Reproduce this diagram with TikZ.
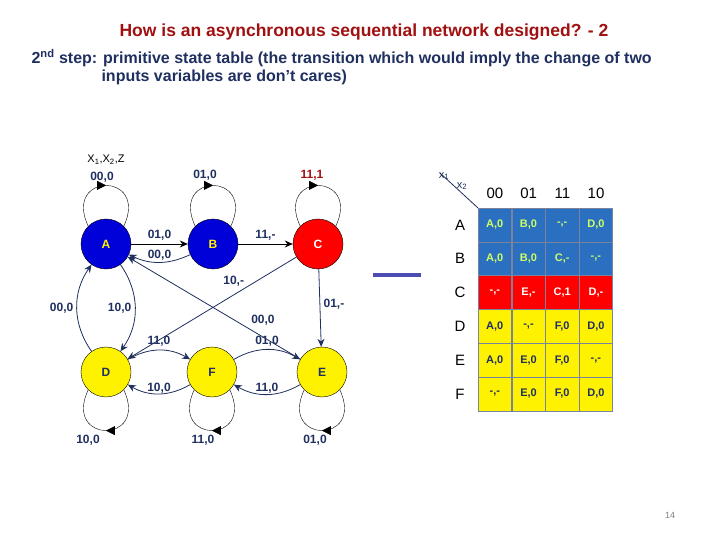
\documentclass[tikz,border=0pt]{standalone}
\usepackage{fontspec}
\setmainfont{Liberation Sans}
\usetikzlibrary{arrows.meta, decorations.markings}
\definecolor{navy}{HTML}{1F2F5F}
\definecolor{darkred}{HTML}{A01010}
\definecolor{tblue}{HTML}{2A6FC0}
\definecolor{tgreen}{HTML}{CCFF66}
\begin{document}
\begin{tikzpicture}[x=1pt, y=-1pt,
    state/.style={circle, draw=black, minimum size=50pt, inner sep=0pt, font=\bfseries\fontsize{12}{12}\selectfont},
    arrow/.style={-{Stealth[length=8pt,width=7pt]}, thick, navy},
    loopy/.style={draw=black, thin, postaction={decorate}, decoration={markings,
        mark=at position 0.5 with {\arrow{Triangle[length=9pt,width=9pt]}}}},
    lbl/.style={font=\bfseries\fontsize{12}{12}\selectfont, navy},
    cell/.style={draw=navy!60, minimum width=33.5pt, minimum height=34pt, inner sep=0pt, font=\bfseries\fontsize{11}{11}\selectfont}
]
\useasboundingbox (0,0) rectangle (720,540);

% Title
\node[darkred, font=\bfseries\fontsize{17.5}{17.5}\selectfont] (title) at (364,32) {How is an asynchronous sequential network designed? - 2};
\node[navy, anchor=west, font=\bfseries\fontsize{16}{16}\selectfont] (step1) at (28,58) {2\textsuperscript{nd} step: primitive state table (the transition which would imply the change of two};
\node[navy, anchor=west, font=\bfseries\fontsize{16}{16}\selectfont] (step2) at (98,77) {inputs variables are don’t cares)};

% States
\node[state, fill=blue!85!black, text=yellow] (A) at (106,244) {A};
\node[state, fill=blue!85!black, text=yellow] (B) at (213,244) {B};
\node[state, fill=red, text=white] (C) at (318,244) {C};
\node[state, fill=yellow, text=navy] (D) at (106,372) {D};
\node[state, fill=yellow, text=navy] (F) at (212,372) {F};
\node[state, fill=yellow, text=navy] (E) at (322,372) {E};

% Self loops
\foreach \s in {A,B,C}
    \draw[loopy] (\s.135) .. controls +(-115:60) and +(-65:60) .. (\s.45);
\foreach \s in {D,F,E}
    \draw[loopy] (\s.-45) .. controls +(65:60) and +(115:60) .. (\s.-135);
\node[lbl, black, font=\fontsize{11}{11}\selectfont] (io) at (106,160) {X\textsubscript{1},X\textsubscript{2},Z};
\node[lbl] (lA) at (102,177) {00,0};
\node[lbl] (lB) at (205,175) {01,0};
\node[lbl, darkred] (lC) at (312,175) {11,1};
\node[lbl] (lD) at (88,440) {10,0};
\node[lbl] (lF) at (203,440) {11,0};
\node[lbl] (lE) at (315,440) {01,0};

% Transitions
\draw[arrow, black] (A) -- node[lbl, above] {01,0} (B);
\draw[arrow] (B) to[bend left=25] node[lbl, pos=0.5, above=-2pt] {00,0} (A);
\draw[arrow, black] (B) -- node[lbl, above] {11,-} (C);
\draw[arrow] (C) -- node[lbl, right, pos=0.45] {01,-} (E);
\draw[arrow] (C) -- node[lbl, pos=0.3, above left=-2pt] {10,-} (D);
\draw[arrow] (E) -- node[lbl, pos=0.3, above right=-1pt] {00,0} (A);
\draw[arrow] (A) to[bend left=35] node[lbl, left] {10,0} (D);
\draw[arrow] (D) to[bend left=35] node[lbl, left] {00,0} (A);
\draw[arrow] (D) to[bend left=30] node[lbl, above] {11,0} (F);
\draw[arrow] (F) to[bend left=30] node[lbl, above=-3pt] {10,0} (D);
\draw[arrow] (F) to[bend left=30] node[lbl, above] {01,0} (E);
\draw[arrow] (E) to[bend left=30] node[lbl, above=-3pt] {11,0} (F);

% Arrow to the table
\coordinate (gs) at (373,275);
\coordinate (ge) at (421,275);
\draw[line width=4pt, blue!40!gray] (gs) -- (ge);

% State table
\coordinate (corner) at (478,208);
\coordinate (diag) at (440,173);
\draw[thick, navy] (diag) -- (corner);
\node[navy, font=\fontsize{11}{11}\selectfont] (x1) at (444,176) {x\textsubscript{1}};
\node[navy, font=\fontsize{11}{11}\selectfont] (x2) at (462,186) {x\textsubscript{2}};
\foreach \c [count=\j] in {00,01,11,10}
    \node[font=\fontsize{15}{15}\selectfont] (h\j) at (478+\j*33.7-16.8,193) {\c};
\foreach \r [count=\i] in {A,B,C,D,E,F}
    \node[font=\fontsize{15}{15}\selectfont] (r\i) at (460,208+\i*33.8-16.9) {\r};
\foreach \v [count=\k from 0] in {{A,0},{B,0},{-,-},{D,0}, {A,0},{B,0},{C,-},{-,-},
    {-,-},{E,-},{C,1},{D,-}, {A,0},{-,-},{F,0},{D,0}, {A,0},{E,0},{F,0},{-,-}, {-,-},{E,0},{F,0},{D,0}} {
    \pgfmathtruncatemacro{\row}{int(\k/4)}
    \pgfmathtruncatemacro{\col}{mod(\k,4)}
    \ifnum\row<2
        \node[cell, fill=tblue, text=tgreen] (t\k) at (478+\col*33.7+16.8,208+\row*33.8+16.9) {\v};
    \else\ifnum\row=2
        \node[cell, fill=red, text=white] (t\k) at (478+\col*33.7+16.8,208+\row*33.8+16.9) {\v};
    \else
        \node[cell, fill=yellow, text=navy] (t\k) at (478+\col*33.7+16.8,208+\row*33.8+16.9) {\v};
    \fi\fi
}

% Page number
\node[gray, font=\fontsize{9}{9}\selectfont] (page) at (670,515) {14};
\end{tikzpicture}
\end{document}
